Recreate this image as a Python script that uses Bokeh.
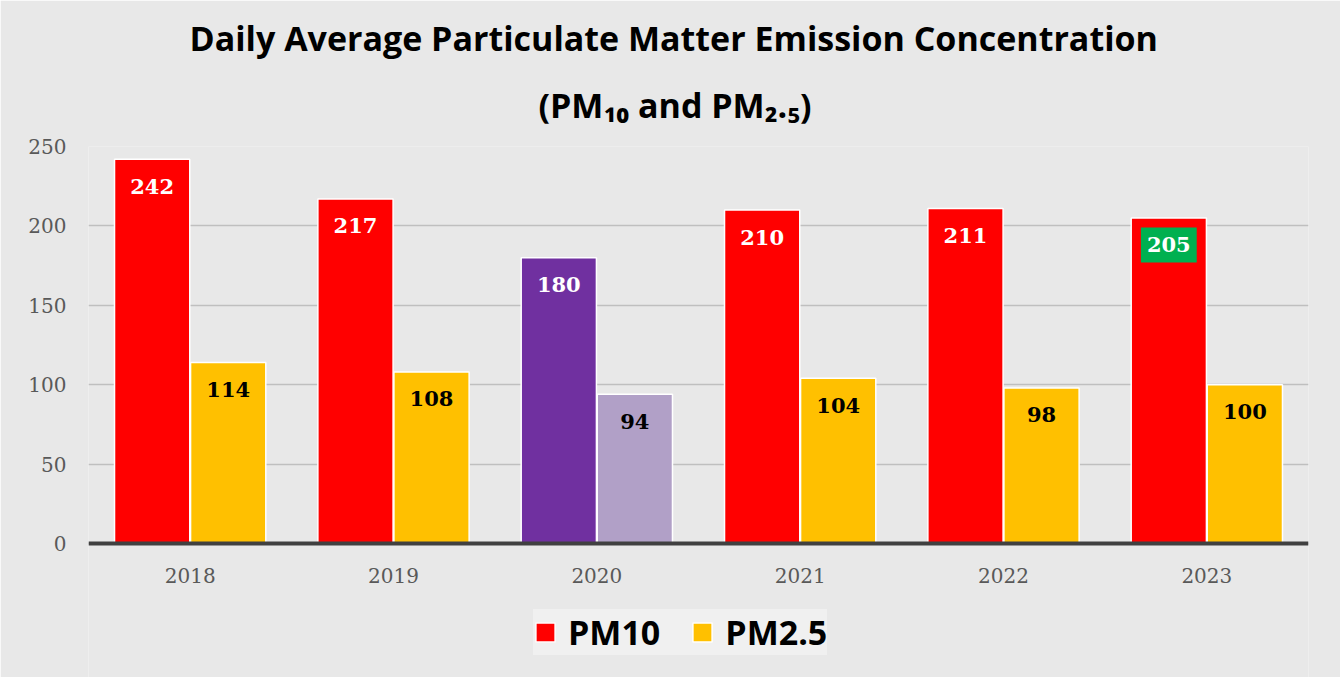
from bokeh.plotting import figure
from bokeh.models import (ColumnDataSource, Range1d, FactorRange, Legend, LegendItem,
                          Title, CDSView, IndexFilter, FixedTicker, Span)
from bokeh.transform import dodge
from bokeh.core.properties import value
from bokeh.embed import file_html
from bokeh.resources import INLINE

years = ["2018", "2019", "2020", "2021", "2022", "2023"]
pm10 = [242, 217, 180, 210, 211, 205]
pm25 = [114, 108, 94, 104, 98, 100]
pm10_colors = ["#FF0000", "#FF0000", "#7030A0", "#FF0000", "#FF0000", "#FF0000"]
pm25_colors = ["#FFC000", "#FFC000", "#B1A0C7", "#FFC000", "#FFC000", "#FFC000"]
y_ticks = [0, 50, 100, 150, 200, 250]
y_max = 250
highlight_index = [5]

src = ColumnDataSource(dict(
    year=years, pm10=pm10, pm25=pm25, c10=pm10_colors, c25=pm25_colors,
    l10=[str(v) for v in pm10], l25=[str(v) for v in pm25],
))

# layout in pixels
FIG_W, FIG_H = 1340, 677
TOP = 146            # title area
PLOT_H = 397         # pixels from value 0 to value y_max
FRAME_H = FIG_H - TOP
y_start = -y_max * (FRAME_H - PLOT_H) / PLOT_H

BG = "#e8e8e8"
p = figure(width=FIG_W, height=FIG_H, x_range=FactorRange(*years), y_range=Range1d(y_start, y_max),
           output_backend="svg", toolbar_location=None,
           min_border_left=88, min_border_right=32, min_border_top=TOP, min_border_bottom=0,
           background_fill_color=BG, border_fill_color=BG, outline_line_color=None)
p.title.text = ""

# Titles (later added is farther from the plot)
p.add_layout(Title(text="(PM\u2081\u2080 and PM\u2082.\u2085)", align="left", offset=450,
                   text_font="Open Sans", text_font_style="bold", text_font_size="34px",
                   text_line_height=0.8, text_color="#000000", standoff=38), "above")
p.add_layout(Title(text="Daily Average Particulate Matter Emission Concentration", align="left",
                   offset=101, text_font="Open Sans", text_font_style="bold", text_font_size="34px",
                   text_color="#000000", standoff=0), "above")

r10 = p.vbar(x=dodge("year", -0.187, range=p.x_range), top="pm10", bottom=0, width=0.37, source=src,
             fill_color="c10", line_color="white", line_width=1.5)
r25 = p.vbar(x=dodge("year", 0.187, range=p.x_range), top="pm25", bottom=0, width=0.37, source=src,
             fill_color="c25", line_color="white", line_width=1.5)

# baseline (category axis line)
p.add_layout(Span(location=0, dimension="width", line_color="#404040", line_width=4))

normal_view = CDSView(filter=IndexFilter([i for i in range(len(years)) if i not in highlight_index]))
hl_view = CDSView(filter=IndexFilter(highlight_index))

lbl = dict(text_align="center", text_baseline="middle", y_offset=27,
           text_font=value("DejaVu Serif"), text_font_style="bold", text_font_size="21px")
p.text(x=dodge("year", -0.187, range=p.x_range), y="pm10", text="l10", source=src, view=normal_view,
       text_color="white", **lbl)
p.text(x=dodge("year", -0.187, range=p.x_range), y="pm10", text="l10", source=src, view=hl_view,
       text_color="white", background_fill_color="#00B050",
       padding=dict(left=6, right=6, top=10, bottom=10), **lbl)
p.text(x=dodge("year", 0.187, range=p.x_range), y="pm25", text="l25", source=src,
       text_color="black", **lbl)

# category labels under the baseline
p.text(x="year", y=0, text="year", source=src, text_align="center", text_baseline="middle",
       y_offset=32, text_font=value("DejaVu Serif"), text_font_size="20px", text_color="#595959")

p.xaxis.visible = False
p.xgrid.grid_line_color = None
p.ygrid.grid_line_color = "#bfbfbf"
p.ygrid.grid_line_width = 1.5
p.yaxis.ticker = FixedTicker(ticks=y_ticks)
p.ygrid.ticker = FixedTicker(ticks=y_ticks)

p.yaxis.axis_line_color = None
p.yaxis.major_tick_line_color = None
p.yaxis.minor_tick_line_color = None
p.yaxis.major_tick_out = 0
p.yaxis.major_tick_in = 0
p.yaxis.major_label_standoff = 22
p.yaxis.major_label_text_font = "DejaVu Serif"
p.yaxis.major_label_text_font_size = "20px"
p.yaxis.major_label_text_color = "#595959"

legend = Legend(items=[LegendItem(label="PM10", renderers=[r10], index=0),
                       LegendItem(label="PM2.5", renderers=[r25], index=0)],
                orientation="horizontal", location=(445, 22),
                label_text_font="Open Sans", label_text_font_style="bold",
                label_text_font_size="34px", label_text_color="#000000",
                glyph_width=24, glyph_height=24, spacing=30, padding=28, margin=0,
                background_fill_color="#f0f0f0", background_fill_alpha=1.0,
                border_line_color=None, label_standoff=11)
p.add_layout(legend, "center")

open("out.html", "w").write(file_html(p, INLINE))
